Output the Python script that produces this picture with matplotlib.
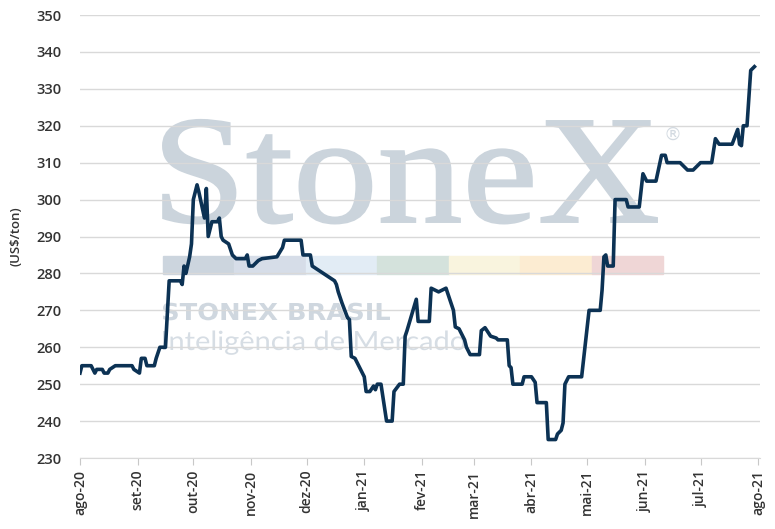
import matplotlib.pyplot as plt
import pandas as pd
from matplotlib.font_manager import FontProperties
from matplotlib.patches import PathPatch, Rectangle
from matplotlib.textpath import TextPath
from matplotlib.transforms import Affine2D

# price series (US$/ton)
dates = [
    "2020-08-01", "2020-08-02", "2020-08-07", "2020-08-09", "2020-08-10", "2020-08-13",
    "2020-08-14", "2020-08-16", "2020-08-17", "2020-08-20", "2020-08-29", "2020-08-30",
    "2020-09-02", "2020-09-03", "2020-09-05", "2020-09-06", "2020-09-10", "2020-09-11",
    "2020-09-13", "2020-09-16", "2020-09-18", "2020-09-24", "2020-09-25", "2020-09-26",
    "2020-09-27", "2020-09-29", "2020-09-30", "2020-10-01", "2020-10-03", "2020-10-04",
    "2020-10-07", "2020-10-08", "2020-10-09", "2020-10-11", "2020-10-14", "2020-10-15",
    "2020-10-16", "2020-10-17", "2020-10-20", "2020-10-22", "2020-10-24", "2020-10-29",
    "2020-10-30", "2020-10-31", "2020-11-02", "2020-11-05", "2020-11-07", "2020-11-15",
    "2020-11-18", "2020-11-19", "2020-11-28", "2020-11-29", "2020-12-03", "2020-12-04",
    "2020-12-16", "2020-12-17", "2020-12-18", "2020-12-20", "2020-12-23", "2020-12-24",
    "2020-12-25", "2020-12-27", "2021-01-01", "2021-01-02", "2021-01-04", "2021-01-06",
    "2021-01-07", "2021-01-08", "2021-01-10", "2021-01-13", "2021-01-16", "2021-01-17",
    "2021-01-20", "2021-01-22", "2021-01-23", "2021-01-24", "2021-01-29", "2021-01-30",
    "2021-02-05", "2021-02-06", "2021-02-10", "2021-02-14", "2021-02-18", "2021-02-19",
    "2021-02-21", "2021-02-24", "2021-02-25", "2021-02-27", "2021-03-04", "2021-03-05",
    "2021-03-07", "2021-03-10", "2021-03-13", "2021-03-14", "2021-03-19", "2021-03-20",
    "2021-03-21", "2021-03-22", "2021-03-27", "2021-03-28", "2021-04-01", "2021-04-03",
    "2021-04-04", "2021-04-09", "2021-04-10", "2021-04-14", "2021-04-15", "2021-04-17",
    "2021-04-18", "2021-04-19", "2021-04-21", "2021-04-28", "2021-05-02", "2021-05-08",
    "2021-05-09", "2021-05-10", "2021-05-11", "2021-05-12", "2021-05-15", "2021-05-16",
    "2021-05-22", "2021-05-23", "2021-05-29", "2021-05-31", "2021-06-01", "2021-06-02",
    "2021-06-07", "2021-06-10", "2021-06-12", "2021-06-13", "2021-06-20", "2021-06-24",
    "2021-06-27", "2021-07-01", "2021-07-07", "2021-07-09", "2021-07-11", "2021-07-18",
    "2021-07-21", "2021-07-22", "2021-07-23", "2021-07-24", "2021-07-26", "2021-07-28",
    "2021-07-30",
]
prices = [
    253, 255, 255, 253, 254, 254,
    253, 253, 254, 255, 255, 254,
    253, 257, 257, 255, 255, 257,
    260, 260, 278, 278, 277, 282,
    280, 284.5, 288, 300, 304, 302,
    295, 303, 290, 294, 294, 295,
    290, 289, 288, 285, 284, 284,
    285, 282, 282, 283.5, 284, 284.5,
    287, 289, 289, 285, 285, 282,
    278, 277, 275, 272, 268, 267.5,
    257.5, 257, 252, 248, 248, 249.5,
    248.5, 250, 250, 240, 240, 248,
    250, 250, 263, 264.5, 273, 267,
    267, 276, 275, 276, 270, 265.5,
    265, 262, 260, 258, 258, 264.5,
    265.3, 263, 262.5, 262, 262, 255,
    254.5, 250, 250, 252, 252, 250.5,
    245, 245, 235, 235, 236.5, 237.5,
    239.5, 250, 252, 252, 270, 270,
    275.5, 284.5, 285, 282, 282, 300,
    300, 298, 298, 307, 306, 305,
    305, 312, 312, 310, 310, 308,
    308, 310, 310, 316.5, 315, 315,
    319, 315, 314.6, 320, 320, 335,
    336,
]

tick_months = pd.date_range("2020-08-01", "2021-08-01", freq="MS")
month_names = ["jan", "fev", "mar", "abr", "mai", "jun", "jul", "ago", "set", "out", "nov", "dez"]
tick_labels = [f"{month_names[d.month - 1]}-{d.strftime('%y')}" for d in tick_months]

band_colors = ["#ccd5de", "#d6dde8", "#e2ecf5", "#d4e2dc", "#f9f4de", "#fcecd2", "#efd6d6"]

W, H = 775, 529
fig = plt.figure(figsize=(W / 100, H / 100), dpi=100)
ax = fig.add_axes([80 / W, 1 - 458 / H, 680 / W, 443 / H])
ax.set_zorder(1)
ax.patch.set_alpha(0)


def watermark(text, x0, base, width, cap, family, weight="normal", color="#cbd4dc", lw=0):
    # text drawn as a path, stretched to a given width / cap height (figure pixels from top-left)
    prop = FontProperties(family=family, weight=weight)
    path = TextPath((0, 0), text, size=100, prop=prop)
    ext = path.get_extents()
    cap100 = TextPath((0, 0), "H", size=100, prop=prop).get_extents().height
    sx = width / ext.width
    sy = cap / cap100
    tr = Affine2D().translate(-ext.x0, 0).scale(sx, sy).translate(x0, H - base)
    fig.add_artist(PathPatch(tr.transform_path(path), transform=None, facecolor=color,
                             edgecolor=color, lw=lw, zorder=0))


watermark("StoneX", 163, 222, 494, 101, "Liberation Serif", lw=1.4)
fig.text(663 / W, 1 - 140 / H, "®", fontsize=13, color="#d3dae1", ha="left", va="baseline")
bw = (663 - 163) / len(band_colors)
for i, c in enumerate(band_colors):
    fig.add_artist(Rectangle(((163 + i * bw) / W, 1 - 274 / H), bw / W, 18 / H,
                             transform=fig.transFigure, color=c, zorder=0))
watermark("STONEX BRASIL", 163, 320, 227, 17, "DejaVu Sans", weight="bold", color="#cfd7df")
watermark("Inteligência de Mercado", 163, 350, 302, 19, "Lato", weight="normal", color="#d6dde4")

ax.plot(pd.to_datetime(dates), prices, color="#0c3254", lw=2.6, solid_joinstyle="round", zorder=3)

ax.set_ylim(230, 350)
ax.set_yticks(range(230, 351, 10))
ax.set_xlim(pd.Timestamp("2020-08-01"), pd.Timestamp("2021-08-02"))
ax.set_xticks(tick_months)
ax.set_xticklabels(tick_labels, rotation=90)
ax.grid(axis="y", color="#d9d9d9", lw=1)
ax.set_axisbelow(True)
for s in ["top", "right", "left"]:
    ax.spines[s].set_visible(False)
ax.spines["bottom"].set_color("#d9d9d9")
ax.tick_params(axis="y", length=0, pad=13, labelsize=10.5, labelcolor="#333333")
ax.tick_params(axis="x", length=5, color="#c8c8c8", labelsize=10, labelcolor="#333333")
for lab in ax.get_yticklabels() + ax.get_xticklabels():
    lab.set_fontweight("semibold")
    lab.set_family("Open Sans")
ax.set_ylabel("(US$/ton)", fontsize=9.5, color="#333333", family="Open Sans", weight="semibold",
              labelpad=10)

fig.savefig("out.png", dpi=100)
